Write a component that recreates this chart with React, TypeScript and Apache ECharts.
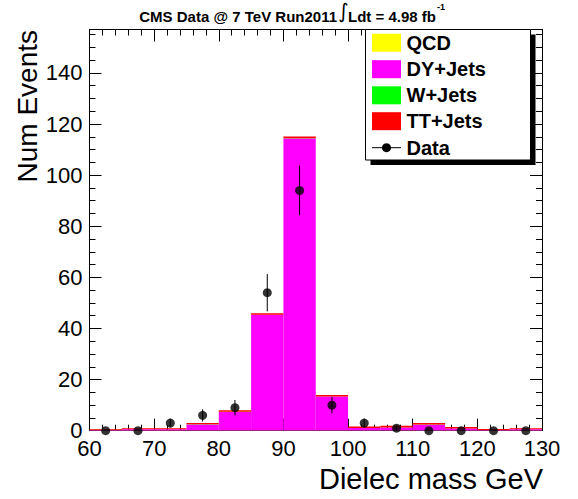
import React, { useEffect, useRef } from 'react';
import * as echarts from 'echarts';

// ---------- data ----------
const binLow = [60, 65, 70, 75, 80, 85, 90, 95, 100, 105, 110, 115, 120, 125];
const BIN_WIDTH = 5;
const qcd = [0.1, 0.1, 0.1, 0.1, 0.1, 0.1, 0.1, 0.1, 0.1, 0.1, 0.1, 0.1, 0.1, 0.1];
const dyJets = [0.2, 0.45, 0.45, 2.35, 7.25, 45.25, 114.25, 13.25, 0.95, 1.15, 2.25, 0.75, 0.15, 0.45];
const wJets = [0.05, 0.05, 0.05, 0.05, 0.05, 0.05, 0.05, 0.05, 0.05, 0.05, 0.05, 0.05, 0.05, 0.05];
const ttJets = [0.35, 0.4, 0.4, 0.5, 0.6, 0.6, 0.7, 0.6, 0.5, 0.6, 0.6, 0.5, 0.4, 0.4];
const dataCounts = [0, 0, 3, 6, 9, 54, 94, 10, 3, 1, 0, 0, 0, 0];
const dataErrors = [0, 0, 1.7, 2.4, 3, 7.3, 9.7, 3.2, 1.7, 1, 0, 0, 0, 0];

const stackNames = ['QCD', 'DY+Jets', 'W+Jets', 'TT+Jets'];
const stackColors = ['#ffff00', '#ff00ff', '#00ff00', '#ff0000'];
const stackValues = [qcd, dyJets, wJets, ttJets];
const dataName = 'Data';

const xTicks = { min: 60, max: 130, interval: 10 };
const yTicks = { min: 0, max: 157, interval: 20 };

const FONT = 'Liberation Sans';

function buildOption() {
  const series: any[] = [];
  const base = binLow.map(() => 0);
  stackValues.forEach((vals, k) => {
    const rows = vals.map((v, i) => {
      const r = [binLow[i], binLow[i] + BIN_WIDTH, base[i], base[i] + v];
      base[i] += v;
      return r;
    });
    const color = stackColors[k];
    series.push({
      type: 'custom',
      name: stackNames[k],
      data: rows,
      encode: { x: [0, 1], y: [2, 3] },
      z: 2,
      renderItem: (params: any, api: any) => {
        const p0 = api.coord([api.value(0), api.value(2)]);
        const p1 = api.coord([api.value(1), api.value(3)]);
        return {
          type: 'rect',
          shape: { x: p0[0], y: p1[1], width: p1[0] - p0[0], height: p0[1] - p1[1] },
          style: { fill: color },
        };
      },
    });
  });

  series.push({
    type: 'custom',
    name: dataName + ' errors',
    data: binLow.map((b, i) => [b + BIN_WIDTH / 2, dataCounts[i], dataErrors[i]]),
    encode: { x: 0, y: 1 },
    z: 3,
    renderItem: (params: any, api: any) => {
      const x = api.value(0);
      const v = api.value(1);
      const e = api.value(2);
      if (!e) return { type: 'group', children: [] };
      const a = api.coord([x, v - e]);
      const b = api.coord([x, v + e]);
      return {
        type: 'line',
        shape: { x1: a[0], y1: a[1], x2: b[0], y2: b[1] },
        style: { stroke: '#000', lineWidth: 1 },
      };
    },
  });

  series.push({
    type: 'scatter',
    name: dataName,
    data: binLow.map((b, i) => [b + BIN_WIDTH / 2, dataCounts[i]]),
    symbol: 'circle',
    symbolSize: 9,
    itemStyle: { color: '#000' },
    clip: false,
    z: 4,
  });

  const tickLine = { color: '#000', width: 1 };
  const mkX = (pos: string, labels: boolean) => ({
    type: 'value',
    position: pos,
    ...xTicks,
    axisLine: { show: true, onZero: false, lineStyle: tickLine },
    axisTick: { show: true, inside: true, length: 12, lineStyle: tickLine },
    minorTick: { show: true, splitNumber: 5, length: 6, lineStyle: tickLine },
    splitLine: { show: false },
    axisLabel: { show: labels, fontFamily: FONT, fontSize: 22, color: '#000', margin: 7 },
  });
  const mkY = (pos: string, labels: boolean) => ({
    type: 'value',
    position: pos,
    ...yTicks,
    axisLine: { show: true, onZero: false, lineStyle: tickLine },
    axisTick: { show: true, inside: true, length: 12, lineStyle: tickLine },
    minorTick: { show: true, splitNumber: 4, length: 6, lineStyle: tickLine },
    splitLine: { show: false },
    axisLabel: {
      show: labels,
      fontFamily: FONT,
      fontSize: 22,
      color: '#000',
      margin: 7,
      formatter: (v: number) => (v % yTicks.interval === 0 ? String(v) : ''),
    },
  });

  // legend (drawn as graphic)
  const legX = 365.5;
  const legY = 29.5;
  const legW = 165;
  const legH = 130.5;
  const rowY = [42.7, 69.2, 95.3, 121.2, 147.7];
  const legFont = `bold 20px "${FONT}"`;
  const legendEls: any[] = [
    { type: 'rect', shape: { x: legX + 5, y: legY + 5, width: legW, height: legH }, style: { fill: '#000' }, z: 20 },
    { type: 'rect', shape: { x: legX, y: legY, width: legW, height: legH }, style: { fill: '#fff', stroke: '#000', lineWidth: 1 }, z: 21 },
  ];
  stackNames.forEach((n, k) => {
    legendEls.push({
      type: 'rect',
      shape: { x: 372, y: rowY[k] - 9, width: 29, height: 18 },
      style: { fill: stackColors[k] },
      z: 22,
    });
    legendEls.push({
      type: 'text',
      x: 406.5,
      y: rowY[k],
      style: { text: n, font: legFont, fill: '#000', verticalAlign: 'middle', align: 'left' },
      z: 22,
    });
  });
  legendEls.push({
    type: 'line',
    shape: { x1: 372, y1: rowY[4], x2: 401, y2: rowY[4] },
    style: { stroke: '#000', lineWidth: 1 },
    z: 22,
  });
  legendEls.push({
    type: 'circle',
    shape: { cx: 386.5, cy: rowY[4], r: 4.5 },
    style: { fill: '#000' },
    z: 22,
  });
  legendEls.push({
    type: 'text',
    x: 406.5,
    y: rowY[4],
    style: { text: dataName, font: legFont, fill: '#000', verticalAlign: 'middle', align: 'left' },
    z: 22,
  });

  const titleFont = `bold 15px "${FONT}"`;
  const titleEls: any[] = [
    {
      type: 'text', x: 337, y: 16,
      style: { text: 'CMS Data @ 7 TeV Run2011', font: titleFont, fill: '#000', verticalAlign: 'middle', align: 'right' },
      z: 30,
    },
    {
      type: 'text', x: 343.5, y: 11,
      style: { text: '\u222B', font: `20px "DejaVu Sans"`, fill: '#000', verticalAlign: 'middle', align: 'center' },
      z: 30,
    },
    {
      type: 'text', x: 348, y: 16,
      style: {
        text: '{m|Ldt = 4.98 fb}{s|-1}',
        fill: '#000',
        verticalAlign: 'middle',
        align: 'left',
        rich: {
          m: { font: titleFont, lineHeight: 28, verticalAlign: 'middle', fill: '#000' },
          s: { font: `bold 9px "${FONT}"`, lineHeight: 8, verticalAlign: 'top', fill: '#000', padding: [0, 0, 0, 1] },
        },
      },
      z: 30,
    },
  ];

  const axisTitles: any[] = [
    {
      type: 'text', x: 543, y: 479,
      style: { text: 'Dielec mass GeV', font: `29px "${FONT}"`, fill: '#000', verticalAlign: 'middle', align: 'right' },
    },
    {
      type: 'text', x: 27, y: 30, rotation: Math.PI / 2,
      style: { text: 'Num Events', font: `28px "${FONT}"`, fill: '#000', verticalAlign: 'middle', align: 'right' },
    },
  ];

  return {
    animation: false,
    backgroundColor: '#fff',
    grid: { left: 89.5, right: 36, top: 29.5, bottom: 68.3, containLabel: false },
    xAxis: [mkX('bottom', true), mkX('top', false)],
    yAxis: [mkY('left', true), mkY('right', false)],
    series,
    graphic: [...titleEls, ...axisTitles, ...legendEls],
  };
}

export default function App() {
  const ref = useRef<HTMLDivElement>(null);
  useEffect(() => {
    if (!ref.current) return;
    const chart = echarts.init(ref.current, null, { renderer: 'svg' });
    chart.setOption(buildOption() as any);
    return () => chart.dispose();
  }, []);
  return <div ref={ref} style={{ position: 'absolute', left: 0, top: 0, width: 578, height: 499 }} />;
}
